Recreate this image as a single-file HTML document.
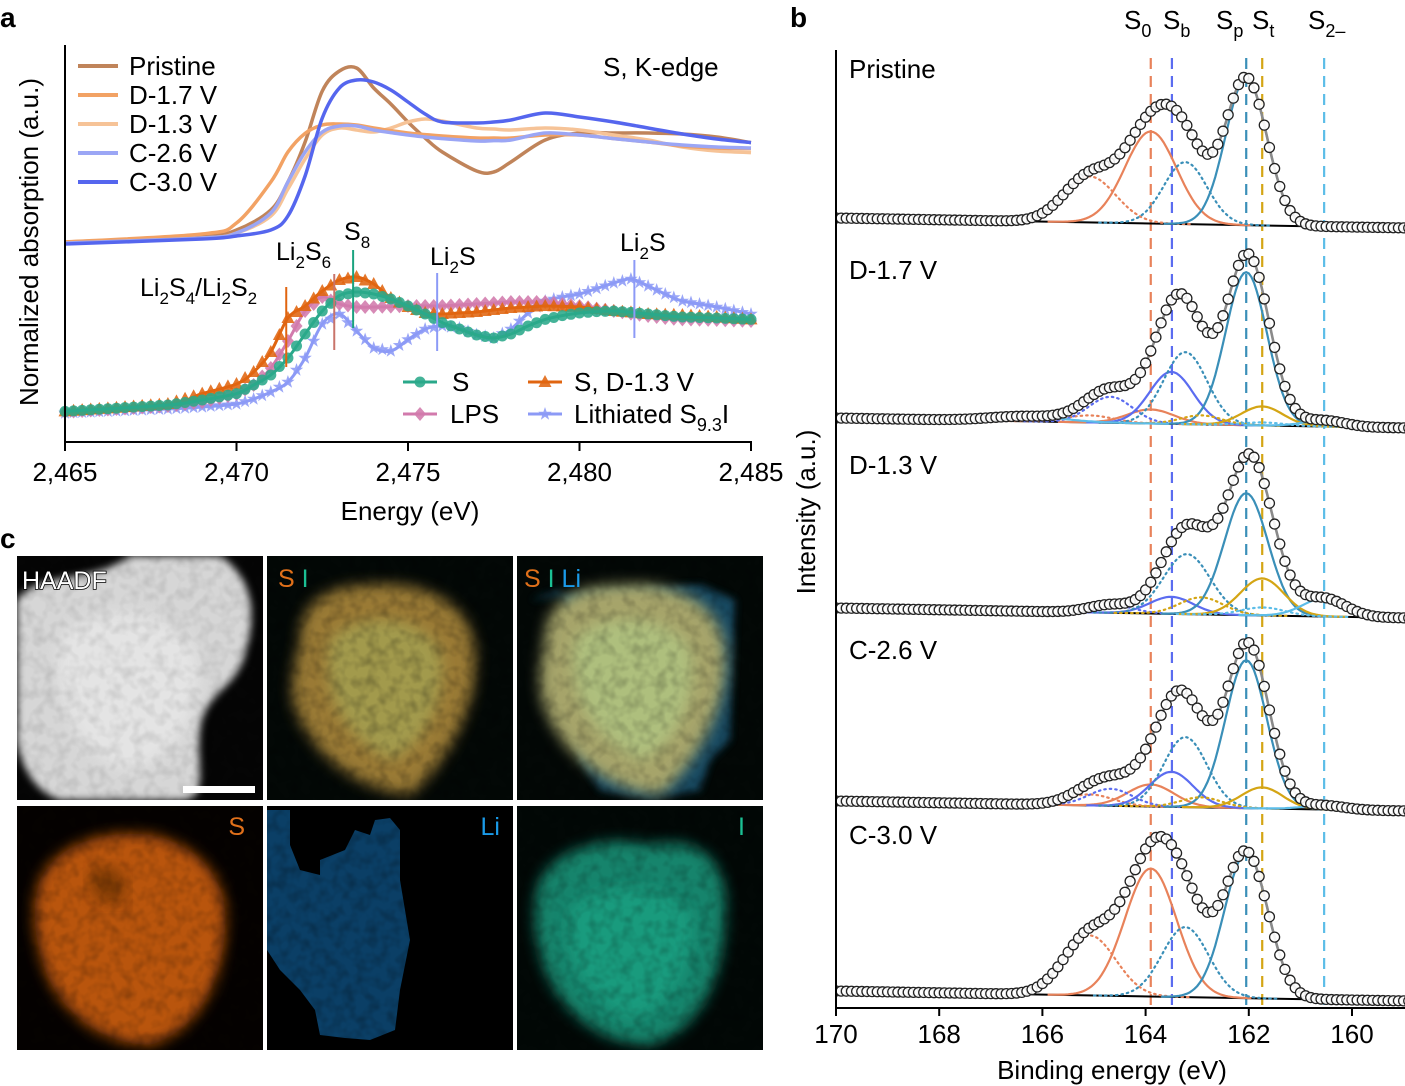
<!DOCTYPE html>
<html><head><meta charset="utf-8">
<style>
html,body{margin:0;padding:0;background:#fff;}
svg{display:block;font-family:"Liberation Sans",Arial,sans-serif;}
</style></head>
<body>
<svg id="fig" width="1405" height="1086" viewBox="0 0 1405 1086" xmlns="http://www.w3.org/2000/svg">
<defs>
  <filter id="blur4" x="-20%" y="-20%" width="140%" height="140%"><feGaussianBlur stdDeviation="4"/></filter>
  <filter id="blur7" x="-20%" y="-20%" width="140%" height="140%"><feGaussianBlur stdDeviation="7"/></filter>
  <filter id="noise" x="0" y="0" width="100%" height="100%">
    <feTurbulence type="fractalNoise" baseFrequency="0.09" numOctaves="2" seed="3"/>
    <feColorMatrix type="matrix" values="0 0 0 0 0  0 0 0 0 0  0 0 0 0 0  0 0 0 1.4 -0.55"/>
  </filter>
  <clipPath id="c1"><rect x="17" y="556" width="246" height="244"/></clipPath>
  <clipPath id="c2"><rect x="267" y="556" width="246" height="244"/></clipPath>
  <clipPath id="c3"><rect x="517" y="556" width="246" height="244"/></clipPath>
  <clipPath id="c4"><rect x="17" y="806" width="246" height="244"/></clipPath>
  <clipPath id="c5"><rect x="267" y="806" width="246" height="244"/></clipPath>
  <clipPath id="c6"><rect x="517" y="806" width="246" height="244"/></clipPath>
  <clipPath id="clipB"><rect x="837" y="40" width="568" height="968"/></clipPath>
</defs>

<text x="0" y="27" font-size="28" font-weight="bold">a</text>
<text x="790" y="27" font-size="28" font-weight="bold">b</text>
<text x="0" y="548" font-size="28" font-weight="bold">c</text>

<!-- ===== Panel a ===== -->
<g id="panelA">
  <g id="aCurves"></g>
  <g id="aMarkers"></g>
  <g id="aAnno"></g>
  <line x1="65" y1="45" x2="65" y2="443" stroke="#000" stroke-width="2"/>
  <line x1="64" y1="442" x2="752" y2="442" stroke="#000" stroke-width="2"/>
  <g id="aTicks"></g>
  <text x="410" y="520" font-size="26" text-anchor="middle">Energy (eV)</text>
  <text transform="translate(38,242) rotate(-90)" font-size="26" text-anchor="middle">Normalized absorption (a.u.)</text>
  <text x="603" y="76" font-size="26">S, K-edge</text>
  <g id="aLegend"></g>
  <g id="aLegend2"></g>
</g>

<!-- ===== Panel b ===== -->
<g id="panelB">
  <g id="bDash"></g>
  <g id="bSpectra" clip-path="url(#clipB)"></g>
  <line x1="836" y1="50" x2="836" y2="1009" stroke="#000" stroke-width="2"/>
  <line x1="835" y1="1008" x2="1405" y2="1008" stroke="#000" stroke-width="2"/>
  <g id="bTicks"></g>
  <text x="1112" y="1079" font-size="26" text-anchor="middle">Binding energy (eV)</text>
  <text transform="translate(815,512) rotate(-90)" font-size="26" text-anchor="middle">Intensity (a.u.)</text>
  <g id="bHead" font-size="26">
    <text x="1124" y="29">S<tspan font-size="18" dy="8">0</tspan></text>
    <text x="1163" y="29">S<tspan font-size="18" dy="8">b</tspan></text>
    <text x="1216" y="29">S<tspan font-size="18" dy="8">p</tspan></text>
    <text x="1252" y="29">S<tspan font-size="18" dy="8">t</tspan></text>
    <text x="1308" y="29">S<tspan font-size="18" dy="8">2–</tspan></text>
  </g>
  <g font-size="26">
    <text x="849" y="78">Pristine</text>
    <text x="849" y="279">D-1.7 V</text>
    <text x="849" y="474">D-1.3 V</text>
    <text x="849" y="659">C-2.6 V</text>
    <text x="849" y="844">C-3.0 V</text>
  </g>
</g>

<!-- ===== Panel c ===== -->
<g id="panelC">
  <g clip-path="url(#c1)">
    <rect x="17" y="556" width="246" height="244" fill="#050505"/>
    <path filter="url(#blur4)" fill="#d6d6d6" d="M17,600 C40,570 90,585 130,556 L220,556 C250,575 258,610 246,650 C238,690 205,690 200,730 C196,770 210,800 180,800 L60,800 C30,790 20,760 17,740 Z"/>
    <path filter="url(#blur7)" fill="#eeeeee" opacity="0.6" d="M60,640 C90,600 160,610 190,640 C215,690 180,760 130,770 C80,760 50,700 60,640 Z"/>
    <rect x="17" y="556" width="246" height="244" filter="url(#noise)" opacity="0.15"/>
    <rect x="183" y="786" width="72" height="7" fill="#fff"/>
    <text x="22" y="589" font-size="25" fill="#fff" stroke="#000" stroke-width="1.5" paint-order="stroke">HAADF</text>
  </g>
  <g clip-path="url(#c2)">
    <rect x="267" y="556" width="246" height="244" fill="#030806"/>
    <path filter="url(#blur7)" fill="#9a7a34" d="M300,640 C300,600 330,585 370,585 C420,580 470,600 475,650 C480,700 450,760 410,795 C360,790 320,760 300,720 C285,690 295,670 300,640 Z"/>
    <path filter="url(#blur7)" fill="#a9b561" opacity="0.55" d="M330,640 C360,610 420,615 440,650 C450,700 420,750 390,760 C350,740 320,700 330,640 Z"/>
    <rect x="267" y="556" width="246" height="244" filter="url(#noise)" opacity="0.35"/>
    <text x="278" y="587" font-size="25"><tspan fill="#e0701a">S</tspan> <tspan fill="#1bc094">I</tspan></text>
  </g>
  <g clip-path="url(#c3)">
    <rect x="517" y="556" width="246" height="244" fill="#030806"/>
    <path fill="#1e5a78" opacity="0.8" d="M530,600 L560,590 L570,620 L565,700 L580,760 L600,790 L650,800 L700,790 L710,760 L730,740 L735,600 L700,585 L600,590 Z" filter="url(#blur4)"/>
    <path filter="url(#blur7)" fill="#a6a46a" d="M545,640 C545,600 580,585 620,585 C670,580 720,600 725,650 C730,700 700,760 660,795 C610,790 570,760 550,720 C535,690 540,670 545,640 Z"/>
    <path filter="url(#blur7)" fill="#b6d68e" opacity="0.55" d="M575,640 C605,610 670,615 690,650 C700,700 670,750 640,760 C600,740 565,700 575,640 Z"/>
    <rect x="517" y="556" width="246" height="244" filter="url(#noise)" opacity="0.3"/>
    <text x="524" y="587" font-size="25"><tspan fill="#e0701a">S</tspan> <tspan fill="#1bc094">I</tspan> <tspan fill="#1a9ae8">Li</tspan></text>
  </g>
  <g clip-path="url(#c4)">
    <rect x="17" y="806" width="246" height="244" fill="#050200"/>
    <path filter="url(#blur7)" fill="#b9550a" d="M40,880 C60,840 110,830 150,835 C200,845 230,880 225,930 C222,980 200,1030 150,1045 C100,1045 60,1010 45,970 C35,940 30,910 40,880 Z"/>
    <path filter="url(#blur7)" fill="#5a2a06" opacity="0.6" d="M90,870 C110,860 130,870 125,895 C120,910 100,905 90,890 Z"/>
    <rect x="17" y="806" width="246" height="244" filter="url(#noise)" opacity="0.3"/>
    <text x="245" y="835" font-size="25" fill="#e0701a" text-anchor="end">S</text>
  </g>
  <g clip-path="url(#c5)">
    <rect x="267" y="806" width="246" height="244" fill="#000"/>
    <path fill="#0b3f66" d="M267,810 L290,810 L290,845 L300,870 L320,875 L320,860 L345,850 L355,830 L370,835 L375,820 L390,818 L400,830 L400,880 L410,940 L400,990 L395,1030 L370,1040 L345,1038 L320,1035 L315,1010 L300,990 L280,970 L267,950 Z"/>
    <rect x="267" y="806" width="246" height="244" filter="url(#noise)" opacity="0.35"/>
    <text x="500" y="835" font-size="25" fill="#1a9ae8" text-anchor="end">Li</text>
  </g>
  <g clip-path="url(#c6)">
    <rect x="517" y="806" width="246" height="244" fill="#020806"/>
    <path filter="url(#blur7)" fill="#15846c" d="M540,880 C560,845 610,835 650,845 C700,835 730,860 725,920 C722,980 700,1030 650,1045 C600,1045 560,1010 545,970 C535,940 530,910 540,880 Z"/>
    <path filter="url(#blur7)" fill="#1fae8c" opacity="0.55" d="M570,910 C600,880 660,880 690,910 C700,960 670,1010 630,1020 C590,1000 560,960 570,910 Z"/>
    <rect x="517" y="806" width="246" height="244" filter="url(#noise)" opacity="0.3"/>
    <text x="745" y="835" font-size="25" fill="#1bc094" text-anchor="end">I</text>
  </g>
  <line x1="265" y1="556" x2="265" y2="1050" stroke="#fff" stroke-width="4"/>
  <line x1="515" y1="556" x2="515" y2="1050" stroke="#fff" stroke-width="4"/>
  <line x1="17" y1="803" x2="763" y2="803" stroke="#fff" stroke-width="6"/>
</g>
</svg>

<script>
// ---------- Panel a data ----------
const aEnergy = [2465,2469,2470,2471,2471.5,2472,2472.5,2473,2473.5,2474,2474.5,2475,2475.5,2476,2477,2477.5,2478,2479,2480,2481,2482,2483,2484,2485];
const aPristine = [1.0,1.03,1.06,1.16,1.30,1.5,1.755,1.855,1.87,1.77,1.69,1.6,1.52,1.45,1.355,1.35,1.4,1.51,1.545,1.545,1.545,1.54,1.525,1.497];
const aD17 = [1.0,1.04,1.095,1.30,1.45,1.543,1.585,1.59,1.585,1.57,1.557,1.545,1.537,1.53,1.52,1.52,1.52,1.535,1.535,1.517,1.5,1.48,1.47,1.467];
const aD13 = [1.0,1.02,1.045,1.13,1.265,1.415,1.535,1.57,1.56,1.55,1.57,1.60,1.615,1.605,1.57,1.565,1.56,1.57,1.56,1.535,1.51,1.475,1.455,1.447];
const aC26 = [0.995,1.02,1.045,1.145,1.30,1.45,1.55,1.58,1.58,1.56,1.547,1.535,1.525,1.517,1.505,1.507,1.51,1.545,1.535,1.517,1.50,1.485,1.475,1.47];
const aC30 = [0.99,1.015,1.03,1.06,1.13,1.33,1.62,1.77,1.81,1.80,1.76,1.70,1.64,1.60,1.595,1.6,1.61,1.645,1.625,1.60,1.57,1.54,1.515,1.497];

const refEnergy = [2465,2468,2469,2470,2470.5,2471,2471.5,2472,2472.5,2473,2473.5,2474,2474.5,2475,2475.5,2476,2476.5,2477,2477.5,2478,2478.5,2479,2479.5,2480,2480.5,2481,2481.5,2482,2482.5,2483,2484,2485];
const refS = [0.153,0.185,0.21,0.242,0.285,0.335,0.42,0.54,0.655,0.732,0.75,0.74,0.715,0.68,0.64,0.597,0.565,0.535,0.52,0.54,0.58,0.613,0.632,0.645,0.652,0.655,0.648,0.64,0.632,0.625,0.62,0.613];
const refSD13 = [0.153,0.19,0.242,0.29,0.35,0.45,0.62,0.68,0.755,0.81,0.825,0.79,0.72,0.675,0.645,0.64,0.645,0.65,0.66,0.67,0.675,0.68,0.678,0.675,0.665,0.655,0.648,0.64,0.637,0.635,0.625,0.613];
const refLPS = [0.15,0.18,0.2,0.24,0.285,0.37,0.505,0.655,0.725,0.69,0.675,0.675,0.677,0.68,0.68,0.68,0.685,0.69,0.695,0.7,0.7,0.7,0.69,0.68,0.667,0.655,0.642,0.63,0.62,0.613,0.61,0.605];
const refLiS = [0.145,0.165,0.175,0.19,0.215,0.25,0.30,0.42,0.59,0.64,0.555,0.47,0.455,0.512,0.565,0.58,0.57,0.537,0.52,0.565,0.645,0.705,0.725,0.74,0.767,0.795,0.815,0.78,0.74,0.705,0.675,0.64];

const aTickLabels = ["2,465","2,470","2,475","2,480","2,485"];
const aTickValues = [2465,2470,2475,2480,2485];

// ---------- Panel b data ----------
const bTickValues = [170,168,166,164,162,160];
const bGuideEnergies = [163.9,163.49,162.05,161.74,160.54];
const bGuideKeys = ["s0","sb","sp","st","s2"];
const bOffsets = [790,590,400,207,17];
// components: [center eV, height a.u., sigma eV, key, dotted(1)]
const bPristine = [[163.9,92,0.5,"s0",0],[165.08,46,0.5,"s0",1],[162.05,147,0.4,"sp",0],[163.23,62,0.42,"sp",1]];
const bD17 = [[163.9,14,0.45,"s0",0],[165.08,7,0.45,"s0",1],[163.5,52,0.42,"sb",0],[164.68,26,0.42,"sb",1],[162.05,153,0.4,"sp",0],[163.23,72,0.42,"sp",1],[161.74,19,0.4,"st",0],[162.92,9,0.4,"st",1],[160.54,6,0.4,"s2",0],[161.72,3,0.4,"s2",1],[166.3,5,0.7,"s2",0]];
const bD13 = [[163.5,17,0.42,"sb",0],[164.68,8,0.42,"sb",1],[162.05,122,0.42,"sp",0],[163.2,60,0.45,"sp",1],[161.74,37,0.42,"st",0],[162.92,17,0.42,"st",1],[160.54,18,0.42,"s2",0],[161.72,8,0.42,"s2",1]];
const bC26 = [[163.9,22,0.45,"s0",0],[165.08,11,0.45,"s0",1],[163.5,35,0.42,"sb",0],[164.68,17,0.42,"sb",1],[162.05,148,0.4,"sp",0],[163.23,70,0.42,"sp",1],[161.74,21,0.4,"st",0],[162.92,10,0.4,"st",1],[160.54,4,0.4,"s2",0]];
const bC30 = [[163.9,128,0.5,"s0",0],[165.08,60,0.5,"s0",1],[162.05,145,0.42,"sp",0],[163.23,70,0.45,"sp",1]];
const bBaselineSlope = 0.9;

const NS = "http://www.w3.org/2000/svg";
function mk(tag, attrs, parent){ const e=document.createElementNS(NS,tag); for(const k in attrs) e.setAttribute(k,attrs[k]); parent.appendChild(e); return e; }

const ax = e => 65 + (e-2465)*34.3;
const ay = v => 442 - v*200;
function smoothPath(pts){
  let d = "M"+pts[0][0].toFixed(1)+","+pts[0][1].toFixed(1);
  for(let i=0;i<pts.length-1;i++){
    const p0=pts[Math.max(0,i-1)], p1=pts[i], p2=pts[i+1], p3=pts[Math.min(pts.length-1,i+2)];
    const c1x=p1[0]+(p2[0]-p0[0])/6, c1y=p1[1]+(p2[1]-p0[1])/6;
    const c2x=p2[0]-(p3[0]-p1[0])/6, c2y=p2[1]-(p3[1]-p1[1])/6;
    d += " C"+c1x.toFixed(1)+","+c1y.toFixed(1)+" "+c2x.toFixed(1)+","+c2y.toFixed(1)+" "+p2[0].toFixed(1)+","+p2[1].toFixed(1);
  }
  return d;
}
const gC = document.getElementById("aCurves");
const upperSeries = [[aPristine,"#c0845a","pristine"],[aD13,"#f6c397","d13"],[aD17,"#f2a264","d17"],[aC26,"#9ba6f5","c26"],[aC30,"#5566ee","c30"]];
upperSeries.forEach(s=>{
  const p = mk("path",{d:smoothPath(aEnergy.map((e,i)=>[ax(e),ay(s[0][i])])),fill:"none",stroke:s[1],"stroke-width":3.5},gC);
  
  
});

const lowerSeries = [[refLiS,"#8c9af6","star","lithiated"],[refLPS,"#d27aac","diamond","lps"],[refSD13,"#e06510","tri","s-d13"],[refS,"#2aa88a","circle","s"]];
const gM = document.getElementById("aMarkers");
function interp(xs, ys, x){ for(let i=0;i<xs.length-1;i++){ if(x>=xs[i]&&x<=xs[i+1]){ const t=(x-xs[i])/(xs[i+1]-xs[i]); return ys[i]+t*(ys[i+1]-ys[i]); } } return ys[ys.length-1]; }
function marker(type,x,y,color,parent){
  let e;
  if(type==="circle") e=mk("circle",{cx:x,cy:y,r:5.5,fill:color},parent);
  else if(type==="tri") e=mk("path",{d:`M${x},${y-7} L${x+6.5},${y+5} L${x-6.5},${y+5}Z`,fill:color},parent);
  else if(type==="diamond") e=mk("path",{d:`M${x},${y-7} L${x+6},${y} L${x},${y+7} L${x-6},${y}Z`,fill:color},parent);
  else { let d=""; for(let k=0;k<10;k++){ const r=k%2?2.8:7; const a=-Math.PI/2+k*Math.PI/5; d+=(k?"L":"M")+(x+r*Math.cos(a)).toFixed(1)+","+(y+r*Math.sin(a)).toFixed(1);} e=mk("path",{d:d+"Z",fill:color},parent); }
  e.setAttribute("opacity","0.88");
  return e;
}
lowerSeries.forEach(s=>{
  const g = mk("g",{},gM);
  
  
  mk("path",{d:smoothPath(refEnergy.map((e,i)=>[ax(e),ay(s[0][i])])),fill:"none",stroke:s[1],"stroke-width":3},g);
  for(let e=2465; e<=2485.001; e+=0.25){
    const m = marker(s[2], ax(e), ay(interp(refEnergy,s[0],e)), s[1], g);
    
    
  }
});

const gA = document.getElementById("aAnno");
const annoE = [2471.45,2472.85,2473.4,2475.85,2481.6];
const annoTop = [0.775,0.84,0.96,0.845,0.91];
const annoBot = [0.375,0.46,0.57,0.455,0.52];
const annoCol = ["#e06510","#c9746a","#1aa37f","#8c9af6","#8c9af6"];
annoE.forEach((e,i)=>{
  const l = mk("line",{x1:ax(e),x2:ax(e),y1:ay(annoTop[i]),y2:ay(annoBot[i]),stroke:annoCol[i],"stroke-width":2},gA);
  
  
});
gA.innerHTML += '<text x="140" y="296" font-size="25">Li<tspan font-size="17" dy="8">2</tspan><tspan dy="-8">S</tspan><tspan font-size="17" dy="8">4</tspan><tspan dy="-8">/Li</tspan><tspan font-size="17" dy="8">2</tspan><tspan dy="-8">S</tspan><tspan font-size="17" dy="8">2</tspan></text>'
 + '<text x="276" y="260" font-size="25">Li<tspan font-size="17" dy="8">2</tspan><tspan dy="-8">S</tspan><tspan font-size="17" dy="8">6</tspan></text>'
 + '<text x="344" y="240" font-size="25">S<tspan font-size="17" dy="8">8</tspan></text>'
 + '<text x="430" y="265" font-size="25">Li<tspan font-size="17" dy="8">2</tspan><tspan dy="-8">S</tspan></text>'
 + '<text x="620" y="251" font-size="25">Li<tspan font-size="17" dy="8">2</tspan><tspan dy="-8">S</tspan></text>';

const gT = document.getElementById("aTicks");
aTickValues.forEach((v,i)=>{
  mk("line",{x1:ax(v),x2:ax(v),y1:442,y2:451,stroke:"#000","stroke-width":2},gT);
  const t = mk("text",{x:ax(v),y:481,"font-size":26,"text-anchor":"middle"},gT);
  t.textContent = aTickLabels[i];
  
  
});

const gL = document.getElementById("aLegend");
const legNames = ["Pristine","D-1.7 V","D-1.3 V","C-2.6 V","C-3.0 V"];
const legCols = ["#c0845a","#f2a264","#f6c397","#9ba6f5","#5566ee"];
legNames.forEach((n,i)=>{
  const y = 66+i*29;
  mk("line",{x1:78,x2:118,y1:y,y2:y,stroke:legCols[i],"stroke-width":4},gL);
  const t = mk("text",{x:129,y:y+9,"font-size":26},gL);
  t.textContent = n;
  
  
});
const gL2 = document.getElementById("aLegend2");
const leg2 = [[403,382,"circle","#2aa88a"],[528,382,"tri","#e06510"],[403,414,"diamond","#d27aac"],[528,414,"star","#8c9af6"]];
leg2.forEach(l=>{
  mk("line",{x1:l[0],x2:l[0]+34,y1:l[1],y2:l[1],stroke:l[3],"stroke-width":3},gL2);
  marker(l[2],l[0]+17,l[1],l[3],gL2);
});
gL2.innerHTML += '<text x="452" y="391" font-size="26">S</text><text x="574" y="391" font-size="26">S, D-1.3 V</text><text x="450" y="423" font-size="26">LPS</text><text x="574" y="423" font-size="26">Lithiated S<tspan font-size="18" dy="8">9.3</tspan><tspan dy="-8">I</tspan></text>';

// ---- panel b ----
const bx = e => 836 + (170-e)*51.6;
const by = v => 1008 - v;
const bCol = {s0:"#e8825a", sb:"#5b6cf0", sp:"#3a8fb8", st:"#d4a514", s2:"#5cbde8"};
const gD = document.getElementById("bDash");
bGuideEnergies.forEach((e,i)=>{
  const l = mk("line",{x1:bx(e),x2:bx(e),y1:58,y2:1008,stroke:bCol[bGuideKeys[i]],"stroke-width":2.2,"stroke-dasharray":"11,7"},gD);
  
  
});
const gB = document.getElementById("bSpectra");
const bSets = [bPristine,bD17,bD13,bC26,bC30];
const bNames = ["pristine","d17","d13","c26","c30"];
function gauss(c,e){ return c[1]*Math.exp(-Math.pow(e-c[0],2)/(2*c[2]*c[2])); }
bSets.forEach((comps,si)=>{
  const off = bOffsets[si];
  const base = e => off - (170-e)*bBaselineSlope;
  const g = mk("g",{},gB);
  
  
  const Es=[]; for(let e=170.2;e>=158.9;e-=0.05) Es.push(e);
  mk("line",{x1:bx(170.2),x2:bx(158.9),y1:by(base(170.2)),y2:by(base(158.9)),stroke:"#000","stroke-width":2},g);
  comps.forEach(c=>{
    const pts = Es.filter(e=>Math.abs(e-c[0])<4*c[2]).map(e=>bx(e).toFixed(1)+","+by(base(e)+gauss(c,e)).toFixed(1));
    const p = mk("polyline",{points:pts.join(" "),fill:"none",stroke:bCol[c[3]],"stroke-width":2.2},g);
    if(c[4]) { p.setAttribute("stroke-dasharray","1.5,4"); p.setAttribute("stroke-linecap","round"); }
    
    
  });
  const env = Es.map(e=>{ let s=base(e); comps.forEach(c=>s+=gauss(c,e)); return [e,s]; });
  const envLine = mk("polyline",{points:env.map(p=>bx(p[0]).toFixed(1)+","+by(p[1]).toFixed(1)).join(" "),fill:"none",stroke:"#8a8a8a","stroke-width":2.6},g);
  
  
  for(let e=170; e>=158.9; e-=0.1){
    let s=base(e); comps.forEach(c=>s+=gauss(c,e));
    const ci = mk("circle",{cx:bx(e),cy:by(s),r:5,fill:"#fff",stroke:"#222","stroke-width":1.3,"fill-opacity":0.9},g);
    
    
  }
});
const gBT = document.getElementById("bTicks");
bTickValues.forEach(v=>{
  mk("line",{x1:bx(v),x2:bx(v),y1:1008,y2:1016,stroke:"#000","stroke-width":2},gBT);
  const t = mk("text",{x:bx(v),y:1043,"font-size":26,"text-anchor":"middle"},gBT);
  t.textContent = String(v);
  
  
});
</script>
</body></html>
